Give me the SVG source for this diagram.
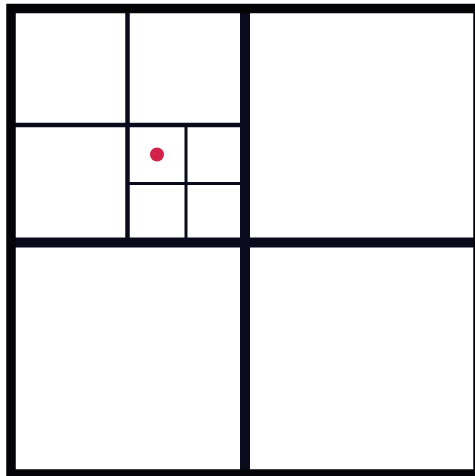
<svg xmlns="http://www.w3.org/2000/svg" width="475" height="476" viewBox="0 0 475 476">
<style>
.l{stroke:#0a0a1c;fill:none;stroke-linecap:butt}
</style>
<rect width="475" height="476" fill="#ffffff"/>
<g id="connectors">
<g id="level3" class="l" stroke-width="3">
<line x1="186" y1="124.5" x2="186" y2="241"/>
<line x1="128" y1="183.5" x2="245" y2="183.5"/>
</g>
<g id="level2" class="l" stroke-width="4.5">
<line x1="127.5" y1="8" x2="127.5" y2="241"/>
<line x1="11" y1="125" x2="245" y2="125"/>
</g>
<g id="level1" class="l" stroke-width="10">
<line x1="245" y1="8" x2="245" y2="474"/>
<line x1="11" y1="242.5" x2="478" y2="242.5"/>
</g>
<rect id="outer" class="l" x="11" y="8.5" width="467" height="465.5" stroke-width="9.5" stroke="#040406" style="stroke:#040406"/>
</g>
<g id="point">
<circle cx="157" cy="154.5" r="7" fill="#d1234a"/>
</g>
</svg>
